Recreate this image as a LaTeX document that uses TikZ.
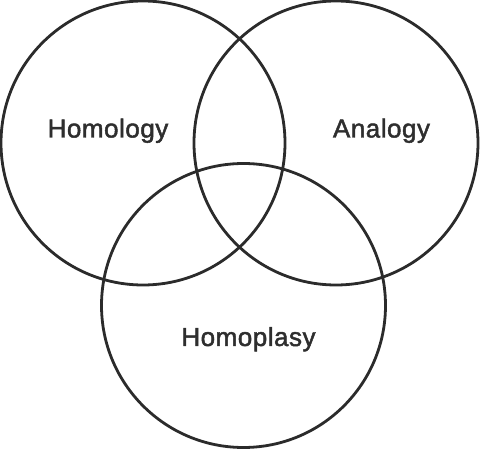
\documentclass[tikz,border=0pt]{standalone}
\usepackage{fontspec}
\setmainfont{Liberation Sans}[LetterSpace=2,FakeBold=1.8]
\definecolor{ink}{HTML}{2B2B2B}
\definecolor{txt}{HTML}{2E2E2E}
\begin{document}
\begin{tikzpicture}[x=1pt,y=-1pt,
  ring/.style={draw=ink,line width=2.8pt},
  lbl/.style={text=txt,font=\fontsize{26}{30}\selectfont,anchor=base,inner sep=0pt}]
\useasboundingbox (0,0) rectangle (480,449);
\draw[ring] (143,143) circle[radius=142];
\draw[ring] (336,143) circle[radius=142];
\draw[ring] (243.5,305.5) circle[radius=142];
\node[lbl] (hom) at (108,137.5) {Homology};
\node[lbl] (ana) at (381.5,137.5) {Analogy};
\node[lbl] (hpl) at (248.5,346) {Homoplasy};
\end{tikzpicture}
\end{document}
